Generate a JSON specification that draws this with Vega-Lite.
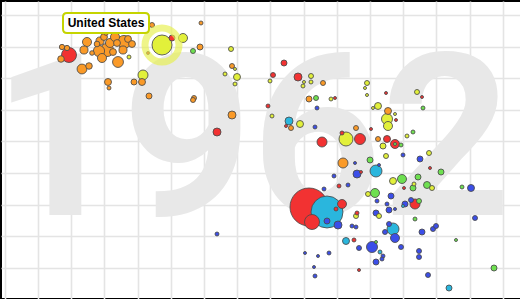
{
  "$schema": "https://vega.github.io/schema/vega-lite/v6.json",
  "autosize": "none",
  "padding": {"left": 1, "top": 1, "right": 0, "bottom": 0},
  "width": 525,
  "height": 298,
  "config": {
    "view": {"stroke": "#000000", "strokeWidth": 2},
    "axis": {"domain": false, "labels": false, "ticks": false, "title": null, "grid": true, "gridColor": "#e4e4e4", "gridWidth": 1.6}
  },
  "datasets": {
    "countries": [
      {"country": "United States", "region": "America", "fert": 4.24, "life": 71, "pop": 185.6},
      {"country": "China", "region": "East Asia", "fert": 7.18, "life": 38.6, "pop": 670},
      {"country": "India", "region": "South Asia", "fert": 7.54, "life": 37.6, "pop": 475},
      {"country": "Japan", "region": "East Asia", "fert": 2.38, "life": 69, "pop": 104.4},
      {"country": "Indonesia", "region": "East Asia", "fert": 7.24, "life": 35.6, "pop": 104.4},
      {"region": "Europe", "fert": 2.24, "life": 70.6, "pop": 13},
      {"region": "Europe", "fert": 2.34, "life": 70.4, "pop": 13},
      {"region": "Europe", "fert": 2.22, "life": 68.2, "pop": 20},
      {"region": "Europe", "fert": 2.64, "life": 66.2, "pop": 45},
      {"region": "Europe", "fert": 2.78, "life": 66.8, "pop": 20},
      {"region": "Europe", "fert": 2.68, "life": 70, "pop": 30},
      {"region": "Europe", "fert": 2.74, "life": 71.6, "pop": 38},
      {"region": "Europe", "fert": 2.84, "life": 69.4, "pop": 10},
      {"region": "Europe", "fert": 2.98, "life": 69.8, "pop": 58},
      {"region": "Europe", "fert": 3.0, "life": 71.8, "pop": 30},
      {"region": "Europe", "fert": 3.08, "life": 72.6, "pop": 22},
      {"region": "Europe", "fert": 3.14, "life": 70, "pop": 80},
      {"region": "Europe", "fert": 3.2, "life": 71.4, "pop": 38},
      {"region": "Europe", "fert": 3.3, "life": 72.6, "pop": 38},
      {"region": "Europe", "fert": 3.34, "life": 71.4, "pop": 22},
      {"region": "Europe", "fert": 3.36, "life": 67.6, "pop": 55},
      {"region": "Europe", "fert": 3.48, "life": 71.6, "pop": 80},
      {"region": "Europe", "fert": 3.56, "life": 72.2, "pop": 22},
      {"region": "Europe", "fert": 3.64, "life": 71.2, "pop": 22},
      {"region": "Europe", "fert": 3.46, "life": 70, "pop": 30},
      {"region": "Europe", "fert": 3.26, "life": 69.6, "pop": 22},
      {"region": "Europe", "fert": 3.04, "life": 68.4, "pop": 38},
      {"region": "Europe", "fert": 3.12, "life": 73.4, "pop": 10},
      {"region": "Europe", "fert": 2.94, "life": 71.2, "pop": 15},
      {"region": "Europe", "fert": 3.16, "life": 63.6, "pop": 22.7},
      {"region": "Europe", "fert": 3.18, "life": 62.4, "pop": 7.4},
      {"region": "Europe", "fert": 3.68, "life": 63.6, "pop": 16.7},
      {"region": "Europe", "fert": 3.84, "life": 63.6, "pop": 22.7},
      {"region": "Europe", "fert": 3.98, "life": 60.8, "pop": 16.7},
      {"region": "Europe", "fert": 4.04, "life": 75, "pop": 11.6},
      {"region": "Europe", "fert": 5.0, "life": 70.6, "pop": 16.7},
      {"region": "Europe", "fert": 5.02, "life": 75.4, "pop": 7.4},
      {"region": "Europe", "fert": 5.64, "life": 66.8, "pop": 11.6},
      {"region": "Europe", "fert": 4.88, "life": 60.4, "pop": 11.6},
      {"region": "Europe", "fert": 4.86, "life": 60, "pop": 11.6},
      {"region": "Europe", "fert": 5.64, "life": 57, "pop": 29.7},
      {"region": "Europe", "fert": 7.46, "life": 63.4, "pop": 11.6},
      {"region": "Europe", "fert": 7.18, "life": 60.2, "pop": 16.7},
      {"region": "Europe", "fert": 6.82, "life": 54.4, "pop": 11.6},
      {"region": "Europe", "fert": 8.76, "life": 57.8, "pop": 22.7},
      {"region": "Europe", "fert": 7.86, "life": 47.4, "pop": 46.4},
      {"region": "Europe", "fert": 8.56, "life": 52.2, "pop": 11.6},
      {"region": "Europe", "fert": 8.12, "life": 54.4, "pop": 11.6},
      {"region": "East Asia", "fert": 4.44, "life": 72.4, "pop": 16.7},
      {"region": "East Asia", "fert": 5.34, "life": 53.6, "pop": 29.7},
      {"region": "East Asia", "fert": 6.68, "life": 67.4, "pop": 16.7},
      {"region": "East Asia", "fert": 6.46, "life": 65, "pop": 11.6},
      {"region": "East Asia", "fert": 6.96, "life": 64.6, "pop": 29.7},
      {"region": "East Asia", "fert": 8.72, "life": 61.4, "pop": 4.2},
      {"region": "East Asia", "fert": 9.44, "life": 60.6, "pop": 4.2},
      {"region": "East Asia", "fert": 6.36, "life": 58.8, "pop": 7.4},
      {"region": "East Asia", "fert": 7.7, "life": 60.4, "pop": 4.2},
      {"region": "East Asia", "fert": 6.72, "life": 54.8, "pop": 4.2},
      {"region": "East Asia", "fert": 8.92, "life": 56, "pop": 4.2},
      {"region": "East Asia", "fert": 8.42, "life": 54.2, "pop": 4.2},
      {"region": "East Asia", "fert": 7.44, "life": 51.6, "pop": 46.4},
      {"region": "East Asia", "fert": 7.84, "life": 53.4, "pop": 7.4},
      {"region": "East Asia", "fert": 8.2, "life": 52.2, "pop": 56.1},
      {"region": "East Asia", "fert": 8.74, "life": 52.2, "pop": 22.7},
      {"region": "East Asia", "fert": 8.9, "life": 51.2, "pop": 37.6},
      {"region": "East Asia", "fert": 8.22, "life": 45.6, "pop": 4.2},
      {"region": "East Asia", "fert": 9.6, "life": 46.4, "pop": 4.2},
      {"region": "East Asia", "fert": 7.78, "life": 42.8, "pop": 7.4},
      {"region": "East Asia", "fert": 9.08, "life": 42.4, "pop": 4.2},
      {"region": "East Asia", "fert": 9.3, "life": 39.2, "pop": 46.4},
      {"region": "East Asia", "fert": 7.84, "life": 39.2, "pop": 37.6},
      {"region": "East Asia", "fert": 7.72, "life": 38.2, "pop": 7.4},
      {"region": "East Asia", "fert": 8.14, "life": 37.4, "pop": 7.4},
      {"region": "East Asia", "fert": 8.08, "life": 32, "pop": 7.4},
      {"region": "East Asia", "fert": 8.18, "life": 26, "pop": 4.2},
      {"region": "East Asia", "fert": 3.96, "life": 69.4, "pop": 4.2},
      {"region": "America", "fert": 4.66, "life": 72.4, "pop": 37.6},
      {"region": "America", "fert": 5.62, "life": 70.2, "pop": 11.6},
      {"region": "America", "fert": 5.7, "life": 66.2, "pop": 4.2},
      {"region": "America", "fert": 5.5, "life": 65.2, "pop": 7.4},
      {"region": "America", "fert": 5.74, "life": 64.6, "pop": 22.7},
      {"region": "America", "fert": 5.7, "life": 63.2, "pop": 7.4},
      {"region": "America", "fert": 3.86, "life": 65, "pop": 46.4},
      {"region": "America", "fert": 3.58, "life": 68.6, "pop": 7.4},
      {"region": "America", "fert": 6.4, "life": 63.8, "pop": 7.4},
      {"region": "America", "fert": 7.22, "life": 64.8, "pop": 11.6},
      {"region": "America", "fert": 7.08, "life": 63.6, "pop": 4.2},
      {"region": "America", "fert": 7.22, "life": 63.6, "pop": 7.4},
      {"region": "America", "fert": 7.06, "life": 62.8, "pop": 7.4},
      {"region": "America", "fert": 8.34, "life": 63.4, "pop": 11.6},
      {"region": "America", "fert": 8.3, "life": 62.4, "pop": 4.2},
      {"region": "America", "fert": 8.34, "life": 61, "pop": 4.2},
      {"region": "America", "fert": 9.34, "life": 61.6, "pop": 11.6},
      {"region": "America", "fert": 7.62, "life": 60.2, "pop": 7.4},
      {"region": "America", "fert": 8.56, "life": 58.8, "pop": 22.7},
      {"region": "America", "fert": 8.46, "life": 58.4, "pop": 4.2},
      {"region": "America", "fert": 8.9, "life": 57.2, "pop": 4.2},
      {"region": "America", "fert": 6.44, "life": 56.8, "pop": 7.4},
      {"region": "America", "fert": 7.0, "life": 55.2, "pop": 22.7},
      {"region": "America", "fert": 8.74, "life": 56.2, "pop": 56.1},
      {"region": "America", "fert": 8.76, "life": 54.8, "pop": 37.6},
      {"region": "America", "fert": 9.14, "life": 52.8, "pop": 7.4},
      {"region": "America", "fert": 7.92, "life": 52.2, "pop": 90.9},
      {"region": "America", "fert": 8.66, "life": 50.8, "pop": 16.7},
      {"region": "America", "fert": 8.72, "life": 48.8, "pop": 11.6},
      {"region": "America", "fert": 9.58, "life": 49.4, "pop": 11.6},
      {"region": "America", "fert": 8.86, "life": 43.8, "pop": 22.7},
      {"region": "America", "fert": 9.28, "life": 43.2, "pop": 7.4},
      {"region": "America", "fert": 9.64, "life": 42.4, "pop": 11.6},
      {"region": "America", "fert": 8.36, "life": 41.2, "pop": 11.6},
      {"region": "America", "fert": 8.12, "life": 36.8, "pop": 11.6},
      {"region": "America", "fert": 8.58, "life": 36.8, "pop": 11.6},
      {"region": "Middle East", "fert": 4.86, "life": 69.8, "pop": 11.6},
      {"region": "Middle East", "fert": 7.32, "life": 60.4, "pop": 11.6},
      {"region": "Middle East", "fert": 9.46, "life": 58.4, "pop": 7.4},
      {"region": "Middle East", "fert": 9.26, "life": 53.6, "pop": 7.4},
      {"region": "Middle East", "fert": 9.02, "life": 51, "pop": 7.4},
      {"region": "Middle East", "fert": 8.9, "life": 51.2, "pop": 4.2},
      {"region": "Middle East", "fert": 8.4, "life": 48, "pop": 16.7},
      {"region": "Middle East", "fert": 9.82, "life": 45.6, "pop": 16.7},
      {"region": "Middle East", "fert": 9.04, "life": 44.2, "pop": 37.6},
      {"region": "Middle East", "fert": 9.36, "life": 44.6, "pop": 16.7},
      {"region": "Middle East", "fert": 9.26, "life": 42.4, "pop": 16.7},
      {"region": "Middle East", "fert": 9.54, "life": 43, "pop": 22.7},
      {"region": "Middle East", "fert": 10.24, "life": 42.6, "pop": 7.4},
      {"region": "Middle East", "fert": 8.5, "life": 41.4, "pop": 37.6},
      {"region": "Middle East", "fert": 9.38, "life": 39.8, "pop": 11.6},
      {"region": "Middle East", "fert": 9.3, "life": 36.2, "pop": 7.4},
      {"region": "Middle East", "fert": 8.52, "life": 31.6, "pop": 4.2},
      {"region": "Middle East", "fert": 10.12, "life": 32, "pop": 4.2},
      {"region": "Middle East", "fert": 10.88, "life": 26.4, "pop": 16.7},
      {"region": "South Asia", "fert": 6.78, "life": 55.8, "pop": 29.7},
      {"region": "South Asia", "fert": 8.52, "life": 45.8, "pop": 66.8},
      {"region": "South Asia", "fert": 8.86, "life": 34.2, "pop": 66.8},
      {"region": "South Asia", "fert": 7.92, "life": 31.8, "pop": 22.7},
      {"region": "South Asia", "fert": 8.6, "life": 29.6, "pop": 7.4},
      {"region": "South Asia", "fert": 9.98, "life": 22.4, "pop": 16.7},
      {"region": "South Asia", "fert": 9.06, "life": 38.8, "pop": 4.2},
      {"region": "Africa", "fert": 7.34, "life": 58.4, "pop": 7.4},
      {"region": "Africa", "fert": 7.3, "life": 54.6, "pop": 7.4},
      {"region": "Africa", "fert": 9.06, "life": 49, "pop": 7.4},
      {"region": "Africa", "fert": 9.4, "life": 48.2, "pop": 16.7},
      {"region": "Africa", "fert": 8.1, "life": 47.4, "pop": 4.2},
      {"region": "Africa", "fert": 7.68, "life": 44.8, "pop": 7.4},
      {"region": "Africa", "fert": 8.14, "life": 45.2, "pop": 29.7},
      {"region": "Africa", "fert": 8.58, "life": 47, "pop": 4.2},
      {"region": "Africa", "fert": 7.96, "life": 43, "pop": 7.4},
      {"region": "Africa", "fert": 7.48, "life": 42.2, "pop": 7.4},
      {"region": "Africa", "fert": 10.42, "life": 42.4, "pop": 22.7},
      {"region": "Africa", "fert": 8.82, "life": 40.8, "pop": 16.7},
      {"region": "Africa", "fert": 8.54, "life": 39.8, "pop": 7.4},
      {"region": "Africa", "fert": 8.74, "life": 39.2, "pop": 7.4},
      {"region": "Africa", "fert": 8.78, "life": 38, "pop": 16.7},
      {"region": "Africa", "fert": 8.9, "life": 38.2, "pop": 4.2},
      {"region": "Africa", "fert": 9.1, "life": 39.2, "pop": 16.7},
      {"region": "Africa", "fert": 9.22, "life": 40, "pop": 11.6},
      {"region": "Africa", "fert": 10.5, "life": 36.4, "pop": 11.6},
      {"region": "Africa", "fert": 7.54, "life": 35.8, "pop": 16.7},
      {"region": "Africa", "fert": 7.76, "life": 35, "pop": 29.7},
      {"region": "Africa", "fert": 8.52, "life": 37.4, "pop": 16.7},
      {"region": "Africa", "fert": 8.78, "life": 35.2, "pop": 11.6},
      {"region": "Africa", "fert": 8.7, "life": 33.6, "pop": 11.6},
      {"region": "Africa", "fert": 8.9, "life": 32.4, "pop": 37.6},
      {"region": "Africa", "fert": 8.04, "life": 34.8, "pop": 7.4},
      {"region": "Africa", "fert": 8.12, "life": 34.6, "pop": 7.4},
      {"region": "Africa", "fert": 9.44, "life": 33.6, "pop": 16.7},
      {"region": "Africa", "fert": 9.66, "life": 34.2, "pop": 11.6},
      {"region": "Africa", "fert": 9.72, "life": 34.8, "pop": 11.6},
      {"region": "Africa", "fert": 8.18, "life": 30.4, "pop": 11.6},
      {"region": "Africa", "fert": 8.44, "life": 30.6, "pop": 56.1},
      {"region": "Africa", "fert": 9.02, "life": 30.6, "pop": 11.6},
      {"region": "Africa", "fert": 8.66, "life": 28.8, "pop": 7.4},
      {"region": "Africa", "fert": 8.64, "life": 28.2, "pop": 7.4},
      {"region": "Africa", "fert": 8.52, "life": 27.6, "pop": 16.7},
      {"region": "Africa", "fert": 9.38, "life": 29.8, "pop": 11.6},
      {"region": "Africa", "fert": 9.38, "life": 28.6, "pop": 11.6},
      {"region": "Africa", "fert": 7.1, "life": 29.4, "pop": 4.2},
      {"region": "Africa", "fert": 7.36, "life": 28.8, "pop": 4.2},
      {"region": "Africa", "fert": 7.58, "life": 29.4, "pop": 7.4},
      {"region": "Africa", "fert": 7.28, "life": 26.6, "pop": 4.2},
      {"region": "Africa", "fert": 7.3, "life": 24.8, "pop": 7.4},
      {"region": "Africa", "fert": 9.56, "life": 25, "pop": 11.6},
      {"region": "Africa", "fert": 5.34, "life": 33.2, "pop": 7.4}
    ]
  },
  "encoding": {
    "x": {
      "field": "fert", "type": "quantitative",
      "scale": {"domain": [1.02, 11.52], "nice": false, "zero": false},
      "axis": {"values": [1.096, 1.76, 2.424, 3.088, 3.752, 4.416, 5.08, 5.744, 6.408, 7.072, 7.736, 8.4, 9.064, 9.728, 10.392, 11.056]}
    },
    "y": {
      "field": "life", "type": "quantitative",
      "scale": {"domain": [20.2, 79.8], "nice": false, "zero": false},
      "axis": {"values": [77, 70.68, 64.35, 58.02, 51.7, 45.38, 39.05, 32.72, 26.4]}
    }
  },
  "layer": [
    {
      "data": {"values": [{"year": "1962", "fert": 6.04, "life": 37}]},
      "mark": {"type": "text", "font": "Roboto", "fontWeight": "bold", "fontSize": 226, "align": "center", "baseline": "alphabetic", "fill": "#e8e8e8"},
      "encoding": {"text": {"field": "year"}}
    },
    {
      "data": {"name": "countries"},
      "mark": {"type": "point", "shape": "circle", "filled": true, "opacity": 1, "stroke": "#4a4a4a", "strokeWidth": 1, "strokeOpacity": 0.85},
      "encoding": {
        "color": {"field": "region", "type": "nominal", "legend": null,
          "scale": {"domain": ["Europe", "East Asia", "America", "Africa", "South Asia", "Middle East"],
                    "range": ["#fa9a28", "#f23232", "#e2f03a", "#3b4ee8", "#2ab6dd", "#6ee050"]}},
        "size": {"field": "pop", "type": "quantitative", "legend": null, "scale": {"type": "linear", "domain": [0, 670], "range": [0, 1444]}},
        "order": {"field": "pop", "type": "quantitative", "sort": "descending"}
      }
    },
    {
      "data": {"name": "countries"},
      "transform": [{"filter": "datum.country === 'United States'"}],
      "mark": {"type": "point", "shape": "circle", "filled": false, "size": 1156, "stroke": "#e6f04a", "strokeWidth": 7, "strokeOpacity": 0.65, "opacity": 1},
      "encoding": {}
    },
    {
      "data": {"name": "countries"},
      "transform": [{"filter": "datum.country === 'United States'"}],
      "mark": {"type": "point", "filled": true, "fill": "#ffffff", "opacity": 1, "stroke": "#c5d400", "strokeWidth": 2, "size": 7396, "xOffset": -56, "yOffset": -22,
        "shape": "M-0.907,-0.2326 L0.907,-0.2326 Q1,-0.2326 1,-0.14 L1,0.14 Q1,0.2326 0.907,0.2326 L-0.907,0.2326 Q-1,0.2326 -1,0.14 L-1,-0.14 Q-1,-0.2326 -0.907,-0.2326 Z"},
      "encoding": {}
    },
    {
      "data": {"name": "countries"},
      "transform": [{"filter": "datum.country === 'United States'"}],
      "mark": {"type": "text", "font": "Liberation Sans", "fontWeight": "bold", "fontSize": 12, "align": "center", "baseline": "middle", "dx": -56, "dy": -22, "fill": "#000000"},
      "encoding": {"text": {"field": "country"}}
    }
  ]
}
